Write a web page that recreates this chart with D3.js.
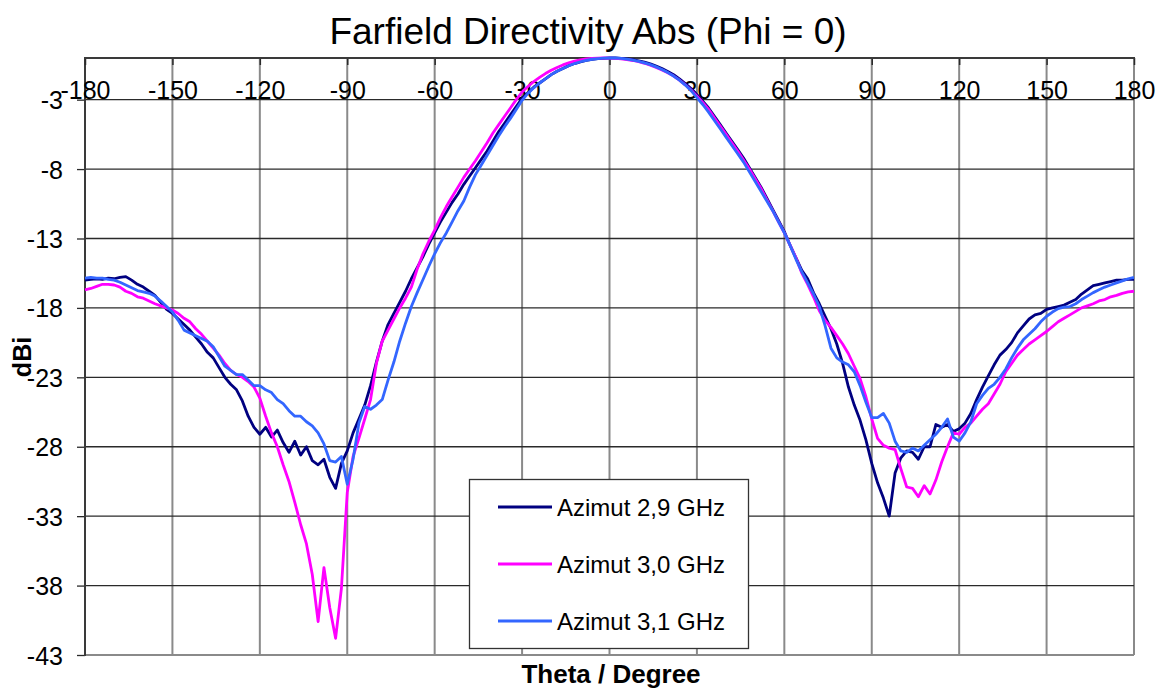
<!DOCTYPE html>
<html><head><meta charset="utf-8">
<script src="https://cdn.jsdelivr.net/npm/d3@7"></script>
<style>
body{margin:0;background:#fff;}
svg text{font-family:"Liberation Sans",Arial,sans-serif;fill:#000;}
</style></head><body>
<svg id="c" width="1159" height="689"></svg>
<script>
const theta = [
-180,-178,-176,-174,-172,-170,-168,-166,-164,-162,
-160,-158,-156,-154,-152,-150,-148,-146,-144,-142,
-140,-138,-136,-134,-132,-130,-128,-126,-124,-122,
-120,-118,-116,-114,-112,-110,-108,-106,-104,-102,
-100,-98,-96,-94,-92,-90,-88,-86,-84,-82,
-80,-78,-76,-74,-72,-70,-68,-66,-64,-62,
-60,-58,-56,-54,-52,-50,-48,-46,-44,-42,
-40,-38,-36,-34,-32,-30,-28,-26,-24,-22,
-20,-18,-16,-14,-12,-10,-8,-6,-4,-2,
0,2,4,6,8,10,12,14,16,18,
20,22,24,26,28,30,32,34,36,38,
40,42,44,46,48,50,52,54,56,58,
60,62,64,66,68,70,72,74,76,78,
80,82,84,86,88,90,92,94,96,98,
100,102,104,106,108,110,112,114,116,118,
120,122,124,126,128,130,132,134,136,138,
140,142,144,146,148,150,152,154,156,158,
160,162,164,166,168,170,172,174,176,178,
180];

const azimut29 = [
-16.0,-15.95,-15.9,-15.95,-15.85,-15.9,-15.8,-15.75,-16.0,-16.3,
-16.5,-16.8,-17.1,-17.6,-18.1,-18.4,-18.8,-19.2,-19.6,-20.1,
-20.6,-21.2,-21.6,-22.3,-23.0,-23.5,-23.9,-24.7,-25.8,-26.6,
-27.1,-26.6,-27.3,-26.8,-27.7,-28.4,-27.6,-28.6,-28.0,-29.0,
-29.3,-28.9,-30.2,-31.0,-29.2,-28.3,-27.0,-26.0,-25.0,-23.6,
-21.9,-20.4,-19.2,-18.4,-17.6,-16.8,-15.9,-15.1,-14.3,-13.4,
-12.6,-11.8,-11.1,-10.4,-9.8,-9.1,-8.5,-7.9,-7.3,-6.7,
-6.0,-5.3,-4.7,-4.1,-3.5,-2.9,-2.5,-2.1,-1.8,-1.5,
-1.2,-0.95,-0.75,-0.55,-0.4,-0.28,-0.18,-0.1,-0.05,-0.02,
0,0,-0.02,-0.06,-0.12,-0.2,-0.3,-0.42,-0.58,-0.76,
-0.97,-1.2,-1.5,-1.85,-2.2,-2.65,-3.1,-3.6,-4.2,-4.8,
-5.4,-6.0,-6.6,-7.2,-7.9,-8.6,-9.3,-10.1,-10.9,-11.7,
-12.5,-13.5,-14.4,-15.3,-15.9,-16.9,-17.7,-18.6,-19.5,-20.6,
-22.0,-23.7,-25.0,-26.1,-27.5,-29.2,-30.6,-31.7,-33.0,-29.9,
-28.8,-28.3,-28.4,-28.9,-28.0,-28.0,-26.4,-26.6,-26.4,-26.9,
-26.7,-26.3,-25.6,-24.6,-23.7,-22.9,-22.1,-21.4,-21.0,-20.5,
-19.8,-19.3,-18.8,-18.5,-18.4,-18.1,-18.0,-17.9,-17.8,-17.6,
-17.4,-17.0,-16.7,-16.4,-16.3,-16.2,-16.1,-16.0,-16.0,-15.95,
-15.95];

const azimut30 = [
-16.7,-16.6,-16.45,-16.3,-16.3,-16.35,-16.5,-16.8,-16.95,-17.2,
-17.3,-17.5,-17.7,-17.85,-18.0,-18.15,-18.4,-18.75,-19.0,-19.5,
-19.9,-20.4,-20.9,-21.4,-22.0,-22.5,-22.8,-23.0,-23.3,-23.7,
-24.5,-25.8,-27.0,-28.0,-29.3,-30.5,-32.0,-33.6,-35.0,-37.2,
-40.6,-36.7,-39.6,-41.8,-38.2,-31.3,-28.7,-27.4,-26.0,-24.6,
-22.0,-20.4,-19.6,-18.8,-18.0,-17.3,-16.5,-15.2,-14.1,-13.2,
-12.4,-11.5,-10.7,-10.0,-9.3,-8.6,-8.0,-7.4,-6.75,-6.1,
-5.4,-4.8,-4.2,-3.6,-3.0,-2.45,-2.05,-1.7,-1.4,-1.12,
-0.88,-0.68,-0.5,-0.35,-0.22,-0.13,-0.07,-0.03,-0.01,0,
-0.01,-0.03,-0.06,-0.11,-0.18,-0.27,-0.38,-0.52,-0.68,-0.86,
-1.07,-1.3,-1.6,-1.93,-2.3,-2.75,-3.2,-3.7,-4.3,-4.9,
-5.5,-6.1,-6.7,-7.35,-8.0,-8.7,-9.4,-10.2,-11.0,-11.8,
-12.6,-13.5,-14.4,-15.5,-16.3,-17.2,-18.2,-18.9,-19.4,-20.0,
-20.6,-21.3,-22.2,-23.1,-24.4,-26.0,-27.4,-27.9,-28.1,-28.2,
-29.6,-30.9,-31.0,-31.6,-30.8,-31.4,-30.4,-29.1,-28.0,-27.0,
-27.1,-26.6,-26.3,-25.8,-25.3,-24.9,-24.2,-23.5,-22.6,-22.0,
-21.4,-21.0,-20.6,-20.3,-20.0,-19.7,-19.35,-19.0,-18.75,-18.5,
-18.25,-18.0,-17.85,-17.7,-17.5,-17.4,-17.2,-17.1,-16.95,-16.85,
-16.8];

const azimut31 = [
-15.85,-15.8,-15.85,-15.85,-15.95,-16.0,-16.15,-16.35,-16.55,-16.75,
-16.85,-16.95,-17.15,-17.5,-17.9,-18.3,-18.9,-19.6,-19.8,-20.0,
-20.2,-20.4,-20.8,-21.5,-22.2,-22.5,-22.8,-22.8,-23.2,-23.6,
-23.6,-23.9,-24.1,-24.6,-24.9,-25.4,-25.8,-25.8,-26.2,-26.5,
-27.0,-27.8,-29.0,-29.1,-28.7,-30.7,-28.9,-26.3,-25.1,-25.3,
-25.0,-24.6,-23.2,-21.9,-20.4,-19.1,-17.9,-16.9,-15.95,-15.0,
-14.1,-13.3,-12.6,-11.8,-11.0,-10.3,-9.3,-8.4,-7.7,-7.0,
-6.3,-5.6,-4.95,-4.35,-3.7,-3.05,-2.55,-2.15,-1.8,-1.5,
-1.2,-0.95,-0.75,-0.56,-0.4,-0.27,-0.17,-0.09,-0.04,-0.01,
0,0,-0.03,-0.08,-0.15,-0.24,-0.35,-0.48,-0.64,-0.83,
-1.05,-1.3,-1.6,-1.95,-2.35,-2.85,-3.35,-3.9,-4.5,-5.1,
-5.7,-6.3,-6.9,-7.5,-8.2,-8.9,-9.6,-10.3,-11.0,-11.8,
-12.6,-13.5,-14.5,-15.4,-16.2,-17.0,-17.9,-19.3,-20.9,-21.6,
-21.9,-22.1,-22.6,-23.6,-24.8,-25.9,-25.9,-25.6,-26.3,-27.6,
-28.3,-28.4,-28.1,-28.3,-27.9,-27.5,-27.1,-26.6,-26.0,-27.3,
-27.6,-27.0,-26.2,-24.9,-24.3,-23.8,-23.5,-23.0,-22.4,-21.6,
-20.9,-20.3,-19.9,-19.5,-19.0,-18.6,-18.3,-18.05,-17.95,-17.9,
-17.7,-17.4,-17.15,-16.9,-16.7,-16.5,-16.35,-16.2,-16.05,-15.9,
-15.8];

const xTicks = [-180,-150,-120,-90,-60,-30,0,30,60,90,120,150,180];
const yTicks = [-43,-38,-33,-28,-23,-18,-13,-8,-3];
const seriesNames = ["Azimut 2,9 GHz","Azimut 3,0 GHz","Azimut 3,1 GHz"];
const seriesColors = ["#000080","#FF00FF","#3366FF"];
const seriesValues = [azimut29, azimut30, azimut31];
const titleText = "Farfield Directivity Abs (Phi = 0)";
const xTitle = "Theta / Degree";
const yTitle = "dBi";

const L=85, T=58, R=1134, B=655;
const x = d3.scaleLinear().domain([-180,180]).range([L,R]);
const y = d3.scaleLinear().domain([-43,0]).range([B,T]);
const svg = d3.select("#c");
const fmt = d => String(d);

// vertical gridlines
svg.append("g").selectAll("line").data(xTicks).join("line")
  .attr("x1",d=>x(d)).attr("x2",d=>x(d)).attr("y1",T).attr("y2",B)
  .attr("stroke","#8a8a8a").attr("stroke-width",2);
// horizontal gridlines
svg.append("g").selectAll("line").data(yTicks.filter(d=>d>-43)).join("line")
  .attr("x1",L).attr("x2",R).attr("y1",d=>y(d)).attr("y2",d=>y(d))
  .attr("stroke","#2a2a2a").attr("stroke-width",1.3);
// bottom border
svg.append("line").attr("x1",L).attr("x2",R).attr("y1",B).attr("y2",B)
  .attr("stroke","#8a8a8a").attr("stroke-width",2);

// left axis
const yAxis = d3.axisLeft(y).tickValues(yTicks).tickSize(8).tickPadding(15).tickFormat(fmt);
const gy = svg.append("g").attr("transform",`translate(${L},0)`).call(yAxis);
gy.select(".domain").remove();
gy.selectAll(".tick line").attr("stroke","#2a2a2a").attr("stroke-width",1.3);
gy.selectAll(".tick text").style("font-size","25px").attr("x",-22).attr("dy","0.36em")
  .style("font-family",'"Liberation Sans",Arial,sans-serif');
svg.append("line").attr("x1",L).attr("x2",L).attr("y1",T).attr("y2",B+1)
  .attr("stroke","#3a3a3a").attr("stroke-width",2);

// top axis (labels below)
const xAxis = d3.axisBottom(x).tickValues(xTicks).tickSize(7).tickFormat(fmt);
const gx = svg.append("g").attr("transform",`translate(0,${T})`).call(xAxis);
gx.select(".domain").remove();
gx.selectAll(".tick line").attr("stroke","#2a2a2a").attr("stroke-width",1.5);
gx.selectAll(".tick text").style("font-size","25px").attr("y",41).attr("dy","0")
  .style("font-family",'"Liberation Sans",Arial,sans-serif');
svg.append("line").attr("x1",L-1).attr("x2",R+1).attr("y1",T).attr("y2",T)
  .attr("stroke","#3a3a3a").attr("stroke-width",2);

// series
const line = d3.line().x((d,i)=>x(theta[i])).y(d=>y(d));
svg.append("g").selectAll("path").data(seriesValues).join("path")
  .attr("d",d=>line(d)).attr("fill","none")
  .attr("stroke",(d,i)=>seriesColors[i]).attr("stroke-width",2.8)
  .attr("stroke-linejoin","round");

// title
svg.append("text").attr("x",588).attr("y",44).attr("text-anchor","middle")
  .style("font-size","37px").text(titleText);
// axis titles
svg.append("text").attr("x",611).attr("y",683).attr("text-anchor","middle")
  .style("font-size","26px").style("font-weight","bold").text(xTitle);
svg.append("text").attr("transform","translate(31,357) rotate(-90)").attr("text-anchor","middle")
  .style("font-size","25px").style("font-weight","bold").text(yTitle);

// legend
const lg = svg.append("g");
lg.append("rect").attr("x",469.5).attr("y",479.5).attr("width",279).attr("height",169)
  .attr("fill","#fff").attr("stroke","#333").attr("stroke-width",1.3);
const rowsY = [507,564,621];
seriesNames.forEach((n,i)=>{
  lg.append("line").attr("x1",498).attr("x2",552).attr("y1",rowsY[i]).attr("y2",rowsY[i])
    .attr("stroke",seriesColors[i]).attr("stroke-width",2.8);
  lg.append("text").attr("x",557).attr("y",rowsY[i]).attr("dy","0.36em")
    .style("font-size","24px").text(n);
});
</script>
</body></html>
